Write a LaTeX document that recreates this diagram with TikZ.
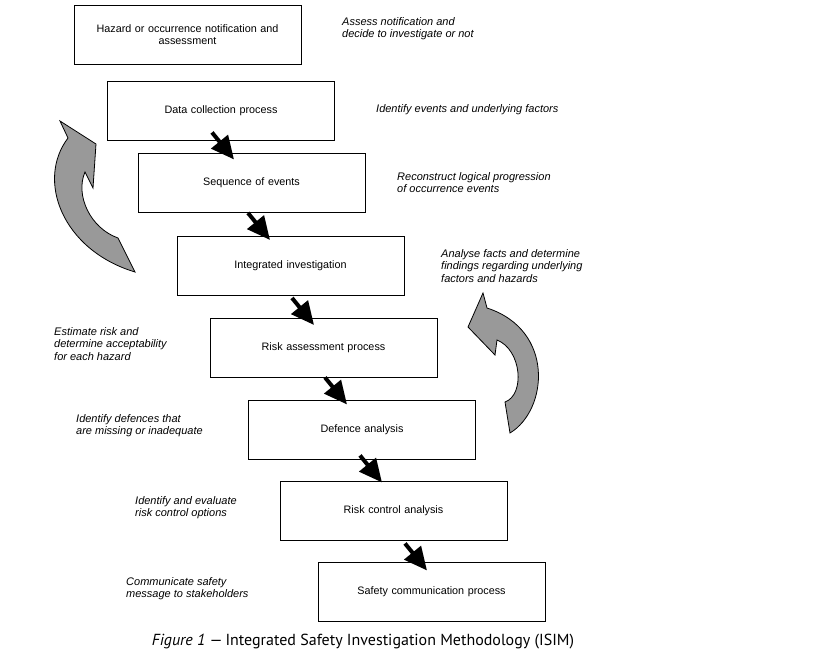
\documentclass[tikz,border=0pt]{standalone}
\usepackage{fontspec}
\setmainfont{Liberation Sans}
\newfontfamily\captionfont{PT Sans}
\usetikzlibrary{calc,arrows.meta}
\definecolor{loopgray}{RGB}{153,153,153}
\tikzset{
  stepbox/.style={draw,line width=0.9pt,minimum width=227pt,minimum height=59pt,
    text width=215pt,align=center,font=\fontsize{10.8}{12.5}\selectfont},
  note/.style={anchor=north west,inner sep=0pt,align=left,
    font=\fontsize{11}{12.6}\selectfont\itshape},
  flow/.style={line width=4pt,-{Triangle[width=21pt,length=23pt]}},
  loop/.style={draw=black,line width=0.8pt,fill=loopgray}
}
\begin{document}
\begin{tikzpicture}[x=1pt,y=-1pt]
 \useasboundingbox (0,0) rectangle (840,654);
 % process steps
 \foreach \n/\x/\y/\t in {haz/187.5/34.5/{Hazard or occurrence notification and\\assessment},
   data/221/110.5/{Data collection process},
   seq/251.5/183/{Sequence of events},
   integ/290.5/266/{Integrated investigation},
   risk/323.5/347.5/{Risk assessment process},
   def/362/429.5/{Defence analysis},
   ctrl/393.5/510.5/{Risk control analysis},
   comm/431.5/592/{Safety communication process}}{
   \node[stepbox] (\n) at (\x,\y) {\t};}
 % arrows between steps
 \foreach \a/\dx/\dy in {data/-9/-8, seq/-3.5/0, integ/1.5/2,
   risk/1.5/0, def/-2/-4, ctrl/11.5/3}{
   \draw[flow] ($(\a.south)+(\dx,\dy)$) -- ++(22,27);}
 % notes
 \node[note] (n1) at (342,17) {Assess notification and\\decide to investigate or not};
 \node[note] (n2) at (376,104) {Identify events and underlying factors};
 \node[note] (n3) at (397,172) {Reconstruct logical progression\\of occurrence events};
 \node[note] (n4) at (441,249) {Analyse facts and determine\\findings regarding underlying\\factors and hazards};
 \node[note] (n5) at (54,327) {Estimate risk and\\determine acceptability\\for each hazard};
 \node[note] (n6) at (76,414) {Identify defences that\\are missing or inadequate};
 \node[note] (n7) at (135,496) {Identify and evaluate\\risk control options};
 \node[note] (n8) at (126,577) {Communicate safety\\message to stakeholders};
 % feedback loops
 \draw[loop] (60,121) -- (96,144) -- (93,188) -- (85,172)
   .. controls (75,195) and (90,228) .. (118,238) -- (135,272)
   .. controls (62,250) and (36,180) .. (68,138) -- cycle;
 \draw[loop] (483,293) -- (468,327) -- (495,355) -- (497,340)
   .. controls (522,350) and (525,395) .. (505,402) -- (510,433)
   .. controls (548,410) and (555,330) .. (487,308) -- cycle;
 % caption
 \node[font=\captionfont\fontsize{16}{18}\selectfont] (cap) at (363,642)
   {\textit{Figure 1} —\,Integrated Safety Investigation Methodology (ISIM)};
\end{tikzpicture}
\end{document}
